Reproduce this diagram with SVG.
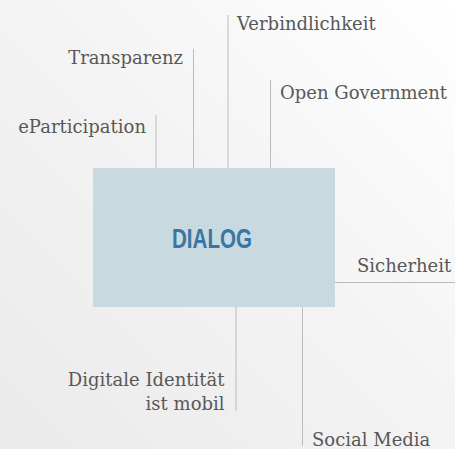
<svg xmlns="http://www.w3.org/2000/svg" width="455" height="449" viewBox="0 0 455 449">
  <defs>
    <linearGradient id="bg" x1="0" y1="1" x2="1" y2="0">
      <stop offset="0" stop-color="#eaeaea"/>
      <stop offset="0.55" stop-color="#f4f4f4"/>
      <stop offset="1" stop-color="#ffffff"/>
    </linearGradient>
    <style>
      .lbl { font-family: "DejaVu Serif", "Liberation Serif", serif; font-size: 18px; fill: #585858; }
      .end { text-anchor: end; }
      .title { font-family: "Liberation Sans", Arial, sans-serif; font-weight: bold; font-size: 28px; fill: #3a76a2; text-anchor: middle; }
      .conn line { stroke: #bcbcbc; stroke-width: 1; }
    </style>
  </defs>

  <rect width="455" height="449" fill="url(#bg)"/>

  <!-- connectors -->
  <g id="connectors" class="conn">
    <line x1="156" y1="115" x2="156" y2="168"/>
    <line x1="193.5" y1="49" x2="193.5" y2="168"/>
    <line x1="228" y1="15" x2="228" y2="168"/>
    <line x1="270.5" y1="80" x2="270.5" y2="168"/>
    <line x1="335" y1="282.5" x2="455" y2="282.5"/>
    <line x1="236" y1="307" x2="236" y2="411"/>
    <line x1="302.5" y1="307" x2="302.5" y2="446"/>
  </g>

  <!-- central node -->
  <g id="dialog">
    <rect x="93" y="168" width="242" height="139" fill="#c8d9e0"/>
    <text class="title" x="212" y="248" textLength="80" lengthAdjust="spacingAndGlyphs">DIALOG</text>
  </g>

  <g id="eparticipation">
    <text class="lbl end" x="146" y="133">eParticipation</text>
  </g>
  <g id="transparenz">
    <text class="lbl end" x="183" y="64">Transparenz</text>
  </g>
  <g id="verbindlichkeit">
    <text class="lbl" x="237" y="30">Verbindlichkeit</text>
  </g>
  <g id="open-government">
    <text class="lbl" x="280" y="99">Open Government</text>
  </g>
  <g id="sicherheit">
    <text class="lbl" x="357" y="272">Sicherheit</text>
  </g>
  <g id="digitale-identitaet">
    <text class="lbl end" x="224.5" y="386">Digitale Identität</text>
    <text class="lbl end" x="224.5" y="410">ist mobil</text>
  </g>
  <g id="social-media">
    <text class="lbl" x="312" y="446">Social Media</text>
  </g>
</svg>
